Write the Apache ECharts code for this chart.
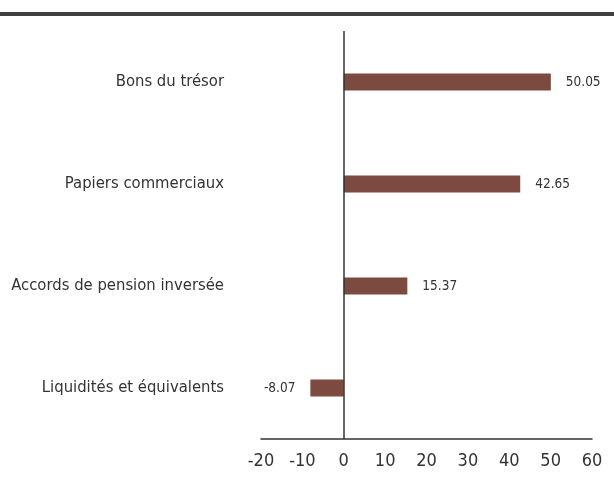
<!DOCTYPE html>
<html>
<head>
<meta charset="utf-8">
<script src="https://cdn.jsdelivr.net/npm/echarts@6/dist/echarts.min.js"></script>
<style>
  html, body { margin: 0; padding: 0; background: #fff; }
  #main { width: 614px; height: 479px; }
</style>
</head>
<body>
<div id="main"></div>
<script>
// data, top to bottom
const categories = ['Bons du trésor', 'Papiers commerciaux', 'Accords de pension inversée', 'Liquidités et équivalents'];
const values = [50.05, 42.65, 15.37, -8.07];
const xTicks = [-20, 60, 10];

const font = '"Liberation Sans Narrow", "DejaVu Sans Condensed", sans-serif';
const chart = echarts.init(document.getElementById('main'));

const barData = values.map(v => ({
  value: v,
  label: { position: v < 0 ? 'left' : 'right' }
}));

chart.setOption({
  animation: false,
  graphic: [{
    type: 'rect',
    left: 0, top: 12,
    shape: { width: 614, height: 4 },
    style: { fill: '#404040' }
  }],
  grid: { left: 261, right: 22, top: 31, bottom: 40, containLabel: false },
  xAxis: {
    type: 'value',
    min: xTicks[0], max: xTicks[1], interval: xTicks[2],
    splitLine: { show: false },
    axisTick: { show: false },
    axisLine: { show: true, onZero: false, lineStyle: { color: '#333', width: 1.5 } },
    axisLabel: { color: '#333', fontSize: 18, fontFamily: font, margin: 13 }
  },
  yAxis: {
    type: 'category',
    data: categories,
    inverse: true,
    axisLine: { show: false },
    axisTick: { show: false },
    axisLabel: { color: '#333', fontSize: 16.5, fontFamily: font, margin: 37 }
  },
  series: [{
    type: 'bar',
    data: barData,
    barWidth: 17,
    itemStyle: { color: '#7d4a40' },
    label: { show: true, color: '#333', fontSize: 13.5, fontFamily: font, distance: 15 },
    markLine: {
      silent: true,
      symbol: 'none',
      label: { show: false },
      lineStyle: { color: '#333', width: 1.5, type: 'solid' },
      data: [{ xAxis: 0 }]
    }
  }]
});
</script>
</body>
</html>
